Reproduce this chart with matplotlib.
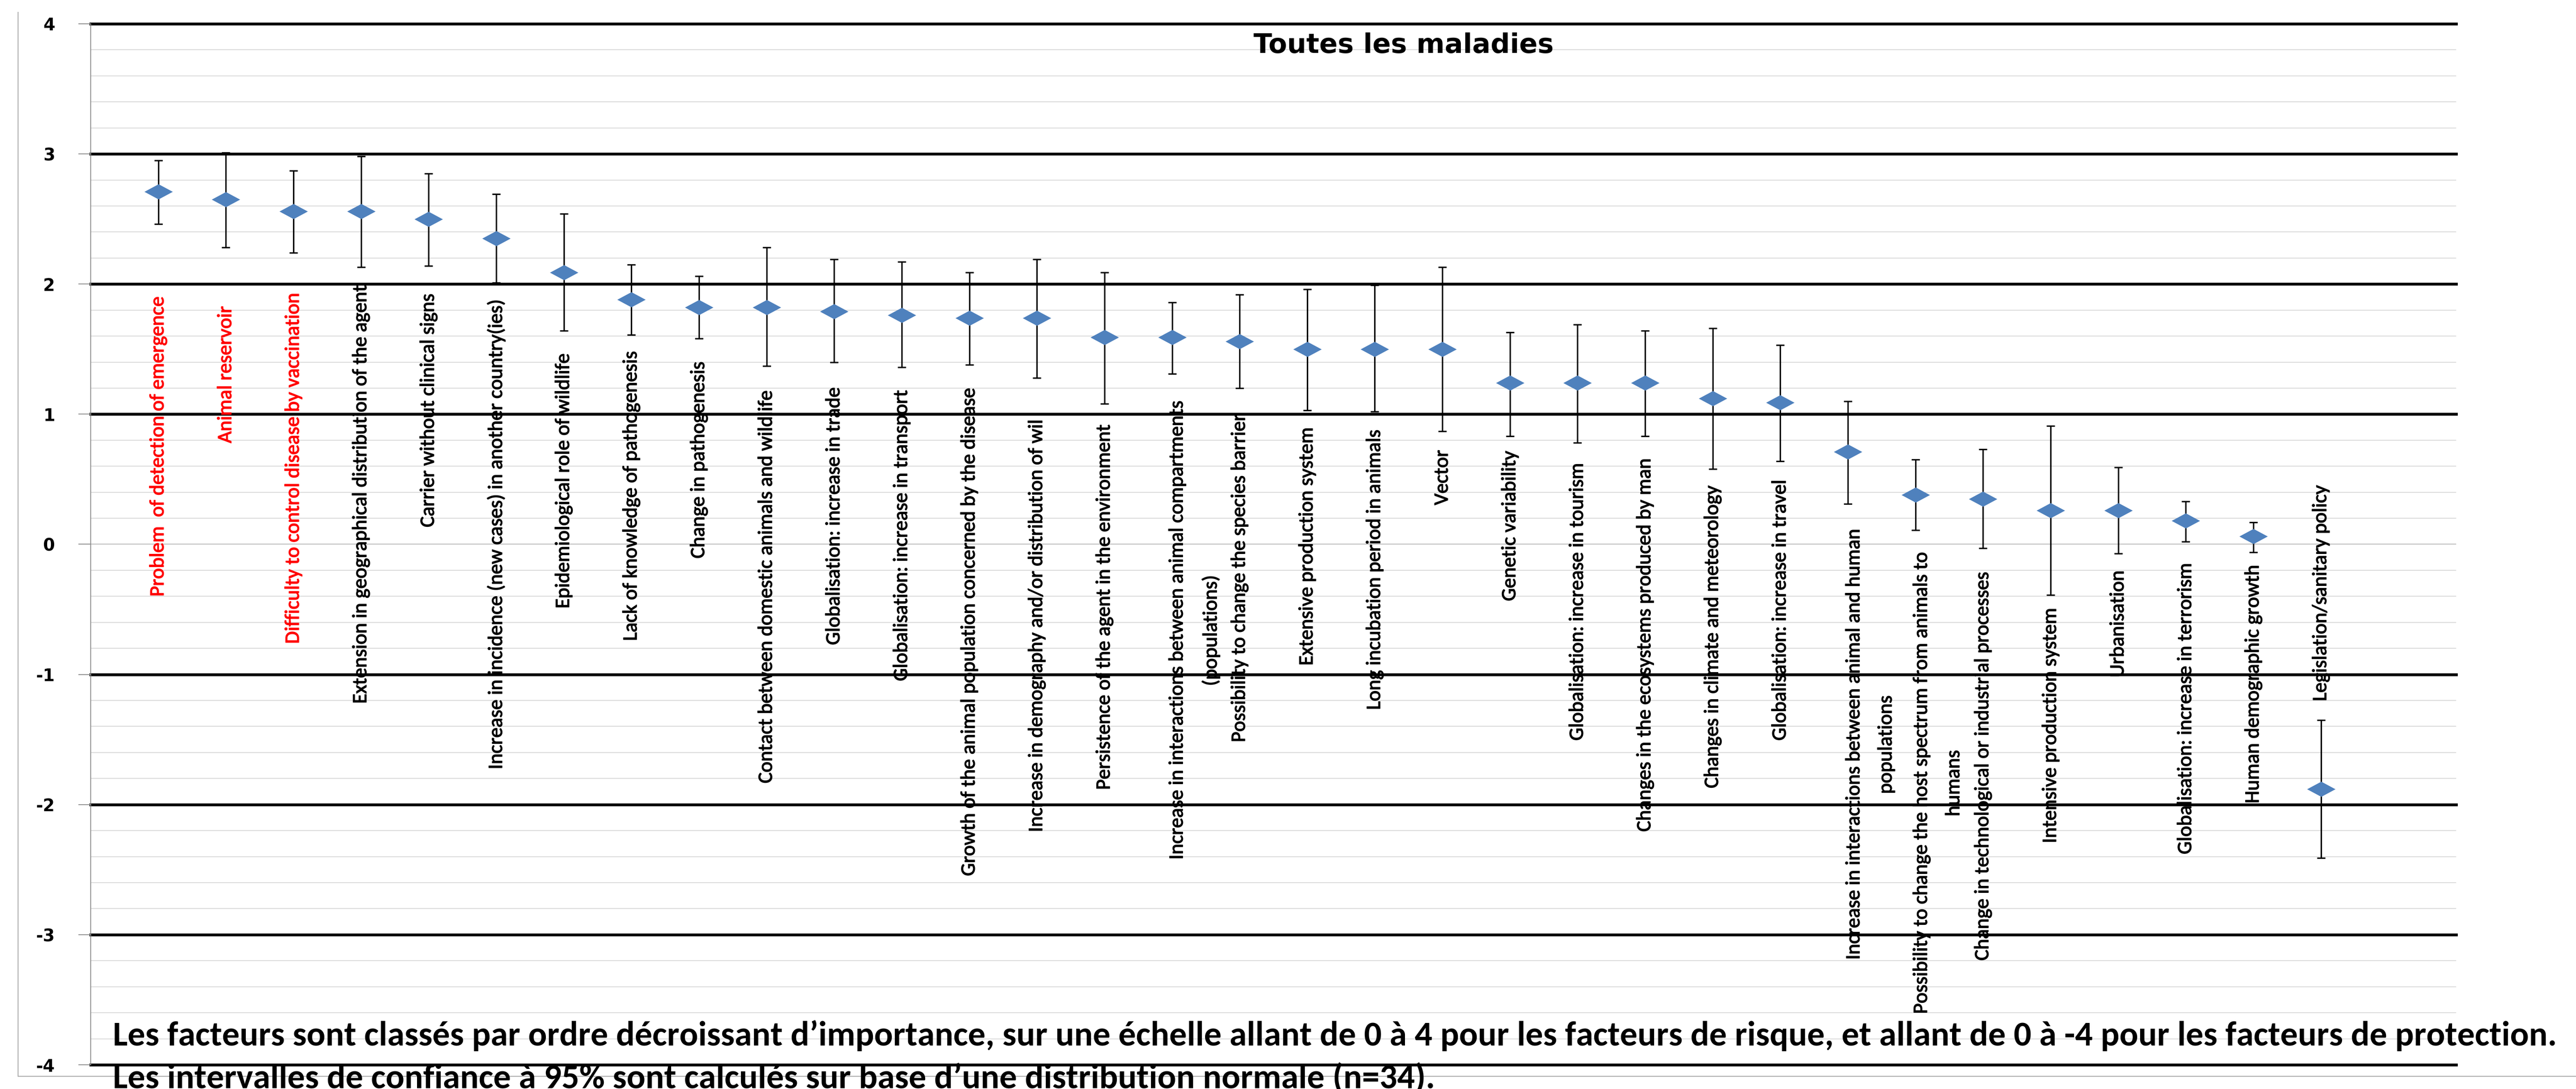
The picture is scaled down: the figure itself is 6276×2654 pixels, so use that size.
import matplotlib
matplotlib.use('Agg')
import numpy as np
import matplotlib.pyplot as plt
from matplotlib import font_manager
from matplotlib import patheffects
from matplotlib.path import Path
from matplotlib.lines import Line2D

# ---------------- data ----------------
categories = [
    "Problem  of detection of emergence",
    "Animal reservoir",
    "Difficulty to control disease by vaccination",
    "Extension in geographical distribution of the agent",
    "Carrier without clinical signs",
    "Increase in incidence (new cases) in another country(ies)",
    "Epidemiological role of wildlife",
    "Lack of knowledge of pathogenesis",
    "Change in pathogenesis",
    "Contact between domestic animals and wildlife",
    "Globalisation: increase in trade",
    "Globalisation: increase in transport",
    "Growth of the animal population concerned by the disease",
    "Increase in demography and/or distribution of wil",
    "Persistence of the agent in the environment",
    "Increase in interactions between animal compartments\n(populations)",
    "Possibility to change the species barrier",
    "Extensive production system",
    "Long incubation period in animals",
    "Vector",
    "Genetic variability",
    "Globalisation: increase in tourism",
    "Changes in the ecosystems produced by man",
    "Changes in climate and meteorology",
    "Globalisation: increase in travel",
    "Increase in interactions between animal and human\npopulations",
    "Possibility to change the host spectrum from animals to\nhumans",
    "Change in technological or industrial processes",
    "Intensive production system",
    "Urbanisation",
    "Globalisation: increase in terrorism",
    "Human demographic growth",
    "Legislation/sanitary policy",
]
means = [2.71, 2.65, 2.56, 2.56, 2.50, 2.35, 2.09, 1.88, 1.82, 1.82, 1.79,
         1.76, 1.74, 1.74, 1.59, 1.59, 1.56, 1.50, 1.50, 1.50, 1.24, 1.24,
         1.24, 1.12, 1.09, 0.71, 0.38, 0.35, 0.26, 0.26, 0.18, 0.06, -1.88]
ci_upper = [2.95, 3.01, 2.87, 2.98, 2.85, 2.69, 2.54, 2.15, 2.06, 2.28, 2.19,
            2.17, 2.09, 2.19, 2.09, 1.86, 1.92, 1.96, 1.99, 2.13, 1.63, 1.69,
            1.64, 1.66, 1.53, 1.10, 0.65, 0.73, 0.91, 0.59, 0.33, 0.17, -1.35]
ci_lower = [2.46, 2.28, 2.24, 2.13, 2.14, 2.01, 1.64, 1.61, 1.58, 1.37, 1.40,
            1.36, 1.38, 1.28, 1.08, 1.31, 1.20, 1.03, 1.02, 0.87, 0.83, 0.78,
            0.83, 0.58, 0.64, 0.31, 0.11, -0.03, -0.39, -0.07, 0.02, -0.06, -2.41]
red_labels = [0, 1, 2]
y_ticks = [-4, -3, -2, -1, 0, 1, 2, 3, 4]
subtitle = "Toutes les maladies"
note1 = ("Les facteurs sont classés par ordre décroissant d’importance, sur une échelle allant "
         "de 0 à 4 pour les facteurs de risque, et allant de 0 à -4 pour les facteurs de protection.")
note2 = "Les intervalles de confiance à 95% sont calculés sur base d’une distribution normale (n=34)."

# ---------------- layout (label anchor = bottom of rotated text, pixel rows) ----------------
label_bottom_px = [1454, 1080, 1569, 1715, 1285, 1875, 1483, 1562, 1361, 1909, 1572,
                   1660, 2135, 2028, 1925, 2095, 1809, 1622, 1730, 1231, 1465, 1805,
                   2027, 1921, 1805, 2339, 2471, 2341, 2055, 1651, 2082, 1958, 1709]

W, H = 6276, 2654
Y0_PX, UNIT_PX = 1326.5, 317.125


def pick(fams):
    for f in fams:
        try:
            font_manager.findfont(f, fallback_to_default=False)
            return f
        except Exception:
            pass
    return 'DejaVu Sans'


FONT = pick(['Carlito', 'Calibri', 'Lato', 'Open Sans'])

fig = plt.figure(figsize=(W / 100, H / 100), dpi=100)
fig.patch.set_facecolor('white')
renderer = fig.canvas.get_renderer()


def fx(px):
    return px / W


def fy(py):
    return 1 - py / H


def fit_size(text, target_px, weight='normal', family=None, base=40.0):
    t = fig.text(0, 0, text, fontsize=base, family=family or FONT, weight=weight)
    w = t.get_window_extent(renderer).width
    t.remove()
    return base * target_px / w


ax = fig.add_axes([fx(221), fy(2595), fx(5984) - fx(221), fy(58) - fy(2595)])
ax.set_xlim(0, 35)
ax.set_ylim(-4, 4)
ax.set_facecolor('white')

# gridlines
for i in range(-20, 21):
    v = i / 5.0
    if i % 5 == 0 and i != 0:
        ax.axhline(v, color='black', lw=5, zorder=1, clip_on=False)
    elif i == 0:
        ax.axhline(v, color='#bdbdbd', lw=1.6, zorder=0.6)
    else:
        ax.axhline(v, color='#d9d9d9', lw=1.5, zorder=0.5)

x = np.arange(1, len(means) + 1)
m = np.array(means)
yerr = [m - np.array(ci_lower), np.array(ci_upper) - m]
ax.errorbar(x, m, yerr=yerr, fmt='none', ecolor='black', elinewidth=2.5,
            capsize=7.5, capthick=2.5, zorder=3)

diamond = Path([(-0.5, 0), (0, 0.268), (0.5, 0), (0, -0.268), (-0.5, 0)],
               [Path.MOVETO, Path.LINETO, Path.LINETO, Path.LINETO, Path.CLOSEPOLY])
ax.plot(x, m, linestyle='none', marker=diamond, markersize=49.7,
        color='#4F81BD', markeredgewidth=0, zorder=4)

# axes styling
for s in ['top', 'right', 'bottom']:
    ax.spines[s].set_visible(False)
ax.spines['left'].set_color('#8c8c8c')
ax.spines['left'].set_linewidth(1.5)
ax.set_xticks([])
ax.set_yticks(y_ticks)
ax.set_yticklabels([str(t) for t in y_ticks], fontfamily='DejaVu Sans',
                   fontweight='bold', fontsize=30)
ax.tick_params(axis='y', length=21.6, width=1.5, color='#8c8c8c', pad=41,
               direction='out')

# category labels
lab_size = fit_size("Globalisation: increase in travel", 635)
lab_px = lab_size * 100 / 72
for i, name in enumerate(categories):
    multi = '\n' in name
    dx = 0.33 if multi else 0.0
    yb = (Y0_PX - label_bottom_px[i]) / UNIT_PX
    col = '#FF0000' if i in red_labels else 'black'
    ax.text(x[i] + dx, yb, name, rotation=90, ha='center', va='bottom',
            fontsize=lab_size, family=FONT, color=col,
            multialignment='center', linespacing=103 / (1.0 * lab_px),
            zorder=5, clip_on=False,
            path_effects=[patheffects.withStroke(linewidth=1.1, foreground=col)])

# subtitle (wide bold face, fitted to the reference width)
fig.text(fx(3054), fy(129), subtitle, ha='left', va='baseline',
         family='DejaVu Sans', weight='bold',
         fontsize=fit_size(subtitle, 730, 'bold', 'DejaVu Sans'))

# notes
ns = fit_size(note1, 5950, 'bold')
fig.text(fx(275), fy(2548), note1, ha='left', va='baseline', family=FONT,
         weight='bold', fontsize=ns)
fig.text(fx(275), fy(2652), note2, ha='left', va='baseline', family=FONT,
         weight='bold', fontsize=ns)

# outer chart frame (left and bottom)
fig.add_artist(Line2D([fx(44), fx(44)], [fy(30), fy(2623)], color='#a6a6a6',
                      lw=1.5, transform=fig.transFigure))
fig.add_artist(Line2D([fx(44), 1.0], [fy(2623), fy(2623)], color='#a6a6a6',
                      lw=1.5, transform=fig.transFigure))

fig.savefig('out.png', dpi=100, facecolor='white')
